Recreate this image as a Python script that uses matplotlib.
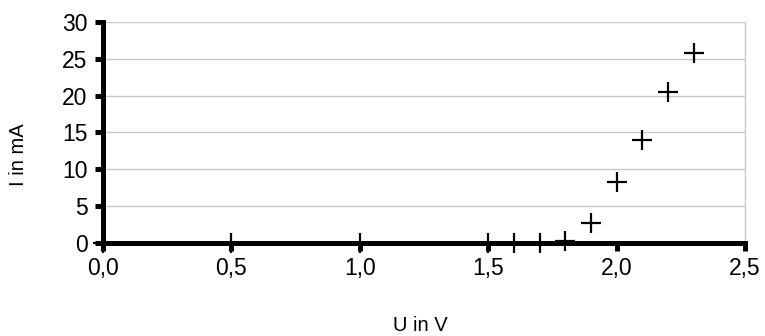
import matplotlib
matplotlib.use("Agg")
import matplotlib.pyplot as plt
from matplotlib.ticker import FuncFormatter

u_volt = [0.0, 0.5, 1.0, 1.5, 1.6, 1.7, 1.8, 1.9, 2.0, 2.1, 2.2, 2.3]
i_ma = [0.0, 0.0, 0.0, 0.0, 0.0, 0.0, 0.3, 2.7, 8.3, 14.0, 20.5, 25.8]

x_ticks = [0.0, 0.5, 1.0, 1.5, 2.0, 2.5]
y_ticks = [0, 5, 10, 15, 20, 25, 30]

plt.rcParams['font.family'] = ['Liberation Sans', 'DejaVu Sans']

fig = plt.figure(figsize=(7.65, 3.36), dpi=100)
ax = fig.add_axes([0.1346, 0.277, 0.974 - 0.1346, 0.9345 - 0.277])

ax.set_xlim(0, 2.5)
ax.set_ylim(0, 30)
ax.set_xticks(x_ticks)
ax.set_yticks(y_ticks)
ax.xaxis.set_major_formatter(FuncFormatter(lambda v, p: ('%.1f' % v).replace('.', ',')))

ax.grid(axis='y', color='#c8c8c8', linewidth=1)
ax.set_axisbelow(True)

ax.plot(u_volt, i_ma, linestyle='none', marker='+', markersize=14,
        markeredgewidth=1.6, color='black', clip_on=False, zorder=5)

for side in ['left', 'bottom']:
    ax.spines[side].set_linewidth(3.6)
    ax.spines[side].set_color('black')
ax.spines['top'].set_visible(False)
ax.spines['right'].set_color('#c8c8c8')
ax.spines['right'].set_linewidth(1)

ax.tick_params(axis='both', which='major', direction='out', length=6, width=3.6,
               labelsize=16.5)
ax.tick_params(axis='x', pad=4)
ax.tick_params(axis='y', right=False, pad=5)

ax.set_xlabel('U in V', fontsize=14.5)
ax.set_ylabel('I in mA', fontsize=14.5)
ax.xaxis.set_label_coords(0.494, -0.375)
ax.yaxis.set_label_coords(-0.132, 0.4)
ax.xaxis.label.set_va('center')
ax.yaxis.label.set_va('center')

fig.savefig('out.png', dpi=100)
